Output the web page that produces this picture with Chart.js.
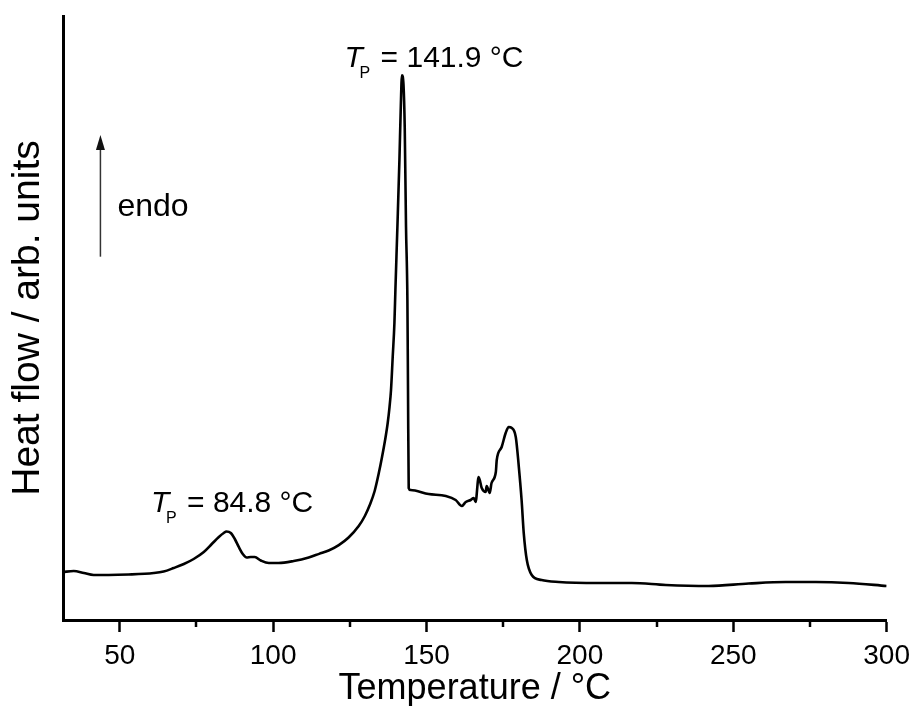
<!DOCTYPE html>
<html><head><meta charset="utf-8">
<script src="https://cdn.jsdelivr.net/npm/chart.js@4.4.0/dist/chart.umd.min.js"></script>
<style>html,body{margin:0;padding:0;background:#fff;overflow:hidden}canvas{display:block}</style>
</head><body>
<canvas id="c" width="917" height="706"></canvas>
<script>
// Temperature (°C)
const temperature = [31.5,35.0,38.3,41.5,46.4,52.9,61.1,64.3,67.6,70.9,74.1,77.4,80.0,82.3,83.9,84.8,86.2,87.5,88.8,90.1,91.4,92.7,94.0,96.0,98.6,101.8,106.7,111.6,115.0,118.1,121.4,124.6,127.9,129.9,131.5,133.1,134.4,135.5,136.5,137.35,137.95,138.43,138.98,139.54,139.86,140.51,141.17,141.59,142.0,142.5,142.9,143.32,143.77,143.97,144.2,144.8,150.7,156.3,159.5,161.5,162.8,164.4,165.4,166.0,167.0,168.0,169.3,169.6,170.6,171.2,172.6,172.9,174.5,175.8,176.8,177.8,179.1,180.1,181.0,181.7,182.7,184.3,187.5,193.1,206.1,216.9,228.0,242.0,255.0,267.1,276.9,287.6,300.0];
// Heat flow (arb. units, endo up)
const heatFlow = [7.95,8.11,7.78,7.45,7.45,7.53,7.78,8.03,8.61,9.27,10.10,11.26,12.58,13.74,14.40,14.65,14.40,13.41,12.09,10.93,10.35,10.43,10.43,9.85,9.44,9.44,9.77,10.35,10.95,11.5,12.4,13.66,15.56,17.22,19.04,21.36,24.2,26.99,29.8,32.62,35.3,38.08,43.54,49.17,54.64,65.07,76.16,84.44,90.2,88.6,81.6,65.07,52.98,38.08,21.85,21.52,20.86,20.53,19.87,18.87,19.54,19.87,20.20,19.54,23.68,21.85,21.19,22.19,21.03,22.68,24.50,26.49,28.64,30.96,31.95,31.79,30.30,25.33,19.87,14.40,9.93,7.45,6.62,6.29,6.13,6.13,5.79,5.63,6.04,6.29,6.29,6.13,5.63];
const xTickValues = [50,100,150,200,250,300];
const xMinorTickValues = [75,125,175,225,275];
const peakTemps = ['84.8','141.9'];
const xRange = [31.5, 300];
const yRange = [0, 100];

// annotation anchors (data coords)
const peakLabelAnchors = [{x:60.2, y:17.93}, {x:123.3, y:91.6}];
const arrowAnchor = {x:43.7, y0:60.15, y1:80.3};

const FONT = "'Liberation Sans', Arial, Helvetica, sans-serif";

const extras = {
  id: 'extras',
  afterDraw(chart) {
    const {ctx, scales: {x, y}} = chart;
    ctx.save();
    // minor ticks
    ctx.strokeStyle = '#000'; ctx.lineWidth = 2.5;
    xMinorTickValues.forEach(v => {
      const px = Math.round(x.getPixelForValue(v));
      ctx.beginPath(); ctx.moveTo(px, x.top); ctx.lineTo(px, x.top + 7); ctx.stroke();
    });
    // endo arrow
    const ax = x.getPixelForValue(arrowAnchor.x);
    const ay0 = y.getPixelForValue(arrowAnchor.y0);
    const ay1 = y.getPixelForValue(arrowAnchor.y1);
    ctx.strokeStyle = '#333'; ctx.lineWidth = 1.5;
    ctx.beginPath(); ctx.moveTo(ax, ay0); ctx.lineTo(ax, ay1 + 12); ctx.stroke();
    ctx.fillStyle = '#111';
    ctx.beginPath(); ctx.moveTo(ax, ay1); ctx.lineTo(ax - 4.5, ay1 + 15); ctx.lineTo(ax + 4.5, ay1 + 15); ctx.closePath(); ctx.fill();
    ctx.fillStyle = '#000';
    ctx.textBaseline = 'alphabetic'; ctx.textAlign = 'left';
    ctx.font = '32px ' + FONT;
    ctx.fillText('endo', ax + 17, ay0 - 40.5);
    // peak labels
    peakLabelAnchors.forEach((a, i) => {
      const px = x.getPixelForValue(a.x), py = y.getPixelForValue(a.y);
      ctx.font = 'italic 30px ' + FONT;
      ctx.fillText('T', px, py);
      ctx.font = '16px ' + FONT;
      ctx.fillText('P', px + 15, py + 11.6);
      ctx.font = '30px ' + FONT;
      ctx.fillText('= ' + peakTemps[i] + ' °C', px + 36, py);
    });
    ctx.restore();
  }
};

new Chart(document.getElementById('c'), {
  type: 'line',
  data: {
    datasets: [{
      data: temperature.map((t, i) => ({x: t, y: heatFlow[i]})),
      borderColor: '#000',
      borderWidth: 2.6,
      pointRadius: 0,
      fill: false,
      cubicInterpolationMode: 'monotone'
    }]
  },
  options: {
    responsive: false,
    animation: false,
    events: [],
    layout: {padding: {top: 16, right: 29, bottom: 0, left: 0}},
    plugins: {legend: {display: false}, tooltip: {enabled: false}, title: {display: false}},
    scales: {
      x: {
        type: 'linear', min: xRange[0], max: xRange[1],
        afterBuildTicks: s => { s.ticks = xTickValues.map(v => ({value: v})); },
        afterFit: s => { s.height = 86; },
        border: {display: true, color: '#000', width: 3},
        grid: {display: true, drawOnChartArea: false, drawTicks: true, tickLength: 12, tickWidth: 2.5, tickColor: '#000', color: '#000'},
        ticks: {color: '#000', font: {family: FONT, size: 28}, padding: 7, maxRotation: 0, autoSkip: false},
        title: {display: true, text: 'Temperature / °C', color: '#000', font: {family: FONT, size: 36}, padding: {top: 0, bottom: -5}}
      },
      y: {
        type: 'linear', min: yRange[0], max: yRange[1],
        afterFit: s => { s.width = 63; },
        border: {display: true, color: '#000', width: 3},
        grid: {display: false},
        ticks: {display: false},
        title: {display: true, text: 'Heat flow / arb. units', color: '#000', font: {family: FONT, size: 39}, padding: {top: 5, bottom: 0}}
      }
    }
  },
  plugins: [extras]
});
</script>
</body></html>
